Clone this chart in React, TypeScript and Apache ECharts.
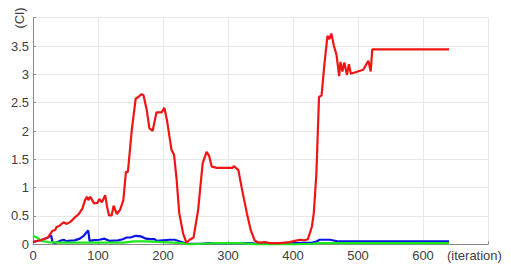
import React, { useEffect, useRef } from "react";
import * as echarts from "echarts";

const xTicks = [0, 100, 200, 300, 400, 500, 600, 700];
const yTicks = [0, 0.5, 1, 1.5, 2, 2.5, 3, 3.5, 4];
const xName = "(iteration)";
const yName = "(Cl)";

const redIter = [0, 13, 23, 27, 30, 34, 36, 41, 47, 52, 58, 64, 70, 76, 80, 83, 85, 88, 91, 94, 99, 102, 106, 111, 114, 117, 121, 124, 129, 134, 139, 143, 146, 152, 158, 162, 167, 170, 175, 179, 184, 190, 198, 202, 206, 213, 217, 221, 225, 231, 236, 241, 247, 254, 261, 267, 271, 275, 283, 307, 309, 316, 321, 329, 335, 341, 345, 349, 357, 364, 380, 395, 403, 411, 418, 423, 429, 432, 436, 440, 444, 448, 453, 456, 459, 463, 467, 471, 473, 476, 479, 483, 486, 489, 508, 516, 519.5, 522, 640];
const redVal = [0.04, 0.075, 0.12, 0.19, 0.24, 0.25, 0.3, 0.33, 0.39, 0.36, 0.4, 0.47, 0.53, 0.63, 0.78, 0.84, 0.78, 0.84, 0.78, 0.72, 0.73, 0.8, 0.74, 0.865, 0.66, 0.51, 0.51, 0.68, 0.535, 0.61, 0.78, 1.28, 1.28, 2.02, 2.57, 2.6, 2.65, 2.63, 2.37, 2.05, 2.0, 2.33, 2.33, 2.41, 2.2, 1.67, 1.58, 1.14, 0.55, 0.19, 0.03, 0.08, 0.12, 0.6, 1.43, 1.63, 1.56, 1.37, 1.35, 1.35, 1.38, 1.31, 1.0, 0.55, 0.25, 0.07, 0.04, 0.03, 0.04, 0.02, 0.02, 0.04, 0.06, 0.08, 0.07, 0.09, 0.31, 0.55, 1.25, 2.6, 2.63, 3.14, 3.68, 3.62, 3.72, 3.5, 3.34, 2.97, 3.22, 3.05, 3.21, 2.99, 3.18, 3.01, 3.08, 3.24, 3.05, 3.44, 3.44];

const blueIter = [0, 13, 23, 26, 28, 30, 33, 38, 44, 48, 51, 54, 64, 72, 78, 83, 85, 87, 94, 102, 110, 118, 131, 138, 144, 150, 158, 166, 174, 180, 187, 190, 200, 210, 218, 226, 234, 240, 260, 270, 330, 350, 400, 430, 436, 441, 457, 470, 640];
const blueVal = [0.04, 0.075, 0.12, 0.15, 0.15, 0.04, 0.02, 0.04, 0.07, 0.08, 0.05, 0.06, 0.07, 0.1, 0.15, 0.22, 0.24, 0.06, 0.075, 0.08, 0.1, 0.06, 0.07, 0.09, 0.12, 0.12, 0.15, 0.14, 0.1, 0.09, 0.09, 0.06, 0.07, 0.08, 0.08, 0.05, 0.02, 0.01, 0.01, 0.02, 0.02, 0.01, 0.02, 0.03, 0.05, 0.08, 0.08, 0.05, 0.05];

const greenIter = [0, 6, 13, 23, 40, 100, 140, 155, 175, 200, 230, 240, 260, 280, 320, 345, 400, 430, 440, 640];
const greenVal = [0.15, 0.12, 0.06, 0.04, 0.03, 0.03, 0.03, 0.05, 0.05, 0.04, 0.02, 0.0, 0.01, 0.02, 0.02, 0.0, 0.0, 0.01, 0.02, 0.02];

const zip = (xs: number[], ys: number[]) => xs.map((x, i) => [x, ys[i]]);

const FONT = "'Liberation Sans', Arial, sans-serif";

export default function App() {
  const ref = useRef<HTMLDivElement>(null);
  useEffect(() => {
    document.body.style.margin = "0";
    const chart = echarts.init(ref.current!, null, { renderer: "svg" });
    const lineStyle = (c: string) => ({ color: c, width: 2.2 });
    chart.setOption({
      animation: false,
      backgroundColor: "#ffffff",
      grid: { left: 33, right: 23, top: 17.7, bottom: 21.7, containLabel: false },
      xAxis: {
        type: "value",
        min: xTicks[0],
        max: xTicks[xTicks.length - 1],
        interval: 100,
        axisLine: { show: true, lineStyle: { color: "#8a8a8a", width: 1 } },
        axisTick: { show: true, inside: true, length: 3, lineStyle: { color: "#8a8a8a" } },
        splitLine: { show: true, lineStyle: { color: "#e8e8e8", width: 1 } },
        axisLabel: {
          color: "#404040",
          fontSize: 13,
          fontFamily: FONT,
          margin: 5,
          formatter: (v: number) => (v === 700 ? "" : String(v)),
        },
      },
      yAxis: {
        type: "value",
        min: yTicks[0],
        max: yTicks[yTicks.length - 1],
        interval: 0.5,
        axisLine: { show: true, lineStyle: { color: "#8a8a8a", width: 1 } },
        axisTick: { show: true, inside: true, length: 3, lineStyle: { color: "#8a8a8a" } },
        splitLine: { show: true, lineStyle: { color: "#e8e8e8", width: 1 } },
        axisLabel: {
          color: "#404040",
          fontSize: 13,
          fontFamily: FONT,
          margin: 4,
          formatter: (v: number) => (v === 4 ? "" : String(v)),
        },
      },
      graphic: [
        {
          type: "text",
          x: 447,
          y: 255,
          style: { text: xName, fill: "#404040", font: `13px ${FONT}`, textVerticalAlign: "middle", textAlign: "left" },
        },
        {
          type: "text",
          x: 19,
          y: 18,
          rotation: Math.PI / 2,
          style: { text: yName, fill: "#404040", font: `13px ${FONT}`, textVerticalAlign: "middle", textAlign: "center" },
        },
      ],
      series: [
        { type: "line", data: zip(blueIter, blueVal), showSymbol: false, lineStyle: lineStyle("#0a14e6"), z: 2 },
        { type: "line", data: zip(greenIter, greenVal), showSymbol: false, lineStyle: lineStyle("#1ee61e"), z: 3 },
        { type: "line", data: zip(redIter, redVal), showSymbol: false, lineStyle: lineStyle("#f01414"), z: 4 },
      ],
    });
    return () => chart.dispose();
  }, []);
  return <div ref={ref} style={{ width: 511, height: 266, position: "absolute", left: 0, top: 0 }} />;
}
